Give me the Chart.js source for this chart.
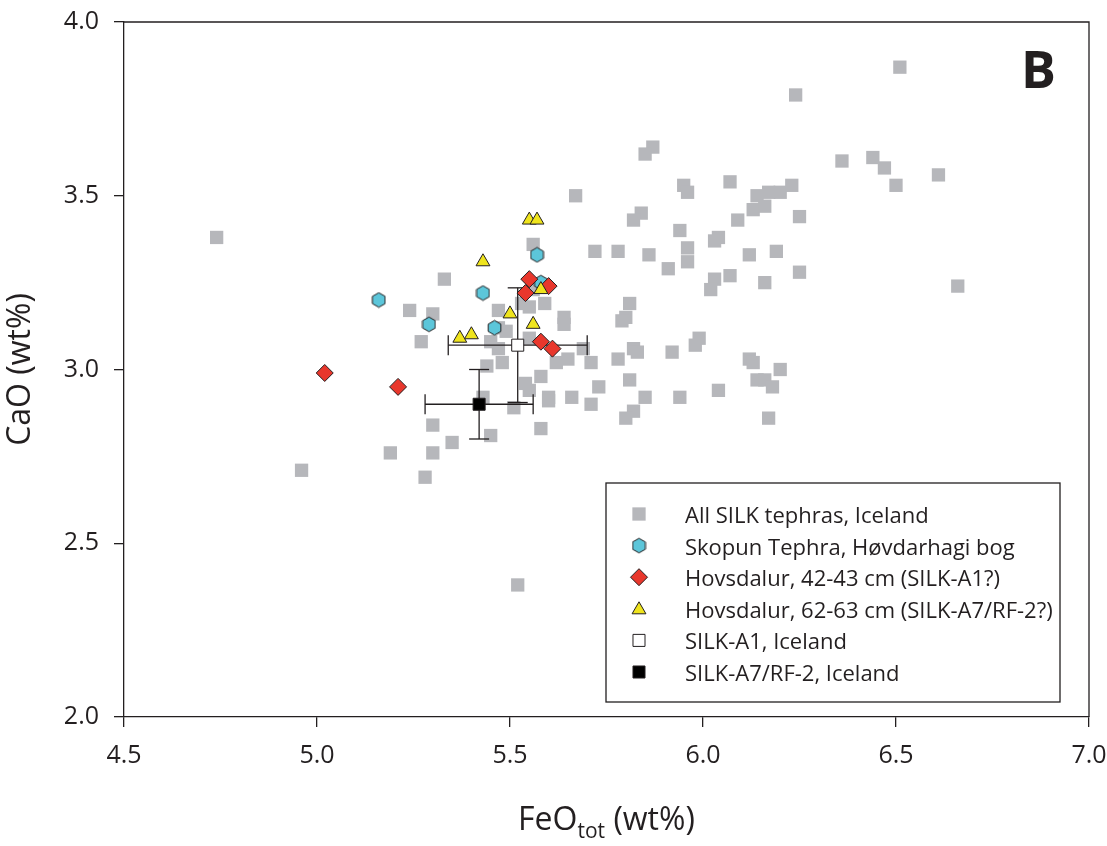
<!DOCTYPE html>
<html>
<head>
<meta charset="utf-8">
<script src="https://cdn.jsdelivr.net/npm/chart.js@4/dist/chart.umd.min.js"></script>
<style>
  html, body { margin: 0; padding: 0; background: #fff; }
  canvas { display: block; }
</style>
</head>
<body>
<canvas id="chart" width="1107" height="846"></canvas>
<script>
// FeO_tot vs CaO (wt%), panel B
const xTicks = [4.5, 5.0, 5.5, 6.0, 6.5, 7.0];
const yTicks = [2.0, 2.5, 3.0, 3.5, 4.0];

const legendLabels = [
    'All SILK tephras, Iceland',
    'Skopun Tephra, Høvdarhagi bog',
    'Hovsdalur, 42-43 cm (SILK-A1?)',
    'Hovsdalur, 62-63 cm (SILK-A7/RF-2?)',
    'SILK-A1, Iceland',
    'SILK-A7/RF-2, Iceland',
];

// all SILK tephras
const grayFeO = [
    4.74, 4.96, 5.19, 5.24, 5.27, 5.28, 5.30, 5.30, 5.30, 5.33, 5.35, 5.45, 5.58, 5.43, 5.51, 5.52,
    5.67, 5.84, 5.82, 5.56, 5.72, 5.78, 5.86, 5.56, 5.53, 5.55, 5.59, 5.81, 5.80, 5.79, 5.47, 5.64,
    5.64, 5.47, 5.49, 5.45, 5.47, 5.55, 5.69, 5.65, 5.62, 5.71, 5.78, 5.82, 5.83, 5.44, 5.48, 5.58,
    5.54, 5.55, 5.60, 5.60, 5.66, 5.71, 5.73, 5.81, 5.85, 5.82, 5.80, 5.87, 5.85, 6.36, 5.95, 5.96,
    6.07, 6.14, 6.17, 6.20, 6.23, 6.13, 6.16, 6.25, 6.09, 5.94, 6.04, 6.03, 5.96, 5.96, 5.91, 6.12,
    6.19, 6.25, 6.03, 6.02, 6.07, 6.16, 5.99, 5.98, 5.92, 6.12, 6.13, 6.20, 6.14, 6.16, 6.18, 6.04,
    5.94, 6.17, 6.51, 6.24, 6.44, 6.47, 6.50, 6.61, 6.66,
];
const grayCaO = [
    3.38, 2.71, 2.76, 3.17, 3.08, 2.69, 2.84, 2.76, 3.16, 3.26, 2.79, 2.81, 2.83, 2.92, 2.89, 2.38,
    3.50, 3.45, 3.43, 3.36, 3.34, 3.34, 3.33, 3.23, 3.19, 3.18, 3.19, 3.19, 3.15, 3.14, 3.17, 3.15,
    3.13, 3.12, 3.11, 3.08, 3.06, 3.09, 3.06, 3.03, 3.02, 3.02, 3.03, 3.06, 3.05, 3.01, 3.02, 2.98,
    2.96, 2.94, 2.92, 2.91, 2.92, 2.90, 2.95, 2.97, 2.92, 2.88, 2.86, 3.64, 3.62, 3.60, 3.53, 3.51,
    3.54, 3.50, 3.51, 3.51, 3.53, 3.46, 3.47, 3.44, 3.43, 3.40, 3.38, 3.37, 3.35, 3.31, 3.29, 3.33,
    3.34, 3.28, 3.26, 3.23, 3.27, 3.25, 3.09, 3.07, 3.05, 3.03, 3.02, 3.00, 2.97, 2.97, 2.95, 2.94,
    2.92, 2.86, 3.87, 3.79, 3.61, 3.58, 3.53, 3.56, 3.24,
];

// Skopun Tephra, Hovdarhagi bog
const skopunFeO = [5.57, 5.58, 5.43, 5.16, 5.29, 5.46];
const skopunCaO = [3.33, 3.25, 3.22, 3.20, 3.13, 3.12];

// Hovsdalur 42-43 cm
const hovs42FeO = [5.55, 5.60, 5.54, 5.58, 5.61, 5.21, 5.02];
const hovs42CaO = [3.26, 3.24, 3.22, 3.08, 3.06, 2.95, 2.99];

// Hovsdalur 62-63 cm
const hovs62FeO = [5.55, 5.57, 5.43, 5.58, 5.50, 5.56, 5.37, 5.40];
const hovs62CaO = [3.43, 3.43, 3.31, 3.23, 3.16, 3.13, 3.09, 3.10];

// reference means [FeO, CaO] and 1 sd [FeO, CaO]
const silkA1 = [5.52, 3.07];
const silkA1Err = [0.18, 0.165];
const silkA7 = [5.42, 2.90];
const silkA7Err = [0.14, 0.10];

const INK = '#231f20';
const GRAY = '#b6b7bb';
const CYAN = '#5cc6da';
const RED = '#e8372c';
const YELLOW = '#efe41d';
const FONT = '"Open Sans", "Noto Sans", sans-serif';

function toPoints(xs, ys) {
    return xs.map((x, i) => ({ x, y: ys[i] }));
}

function makeHexagon(r, fill) {
    const w = Math.ceil(r * Math.sqrt(3)) + 2;
    const h = Math.ceil(r * 2) + 2;
    const c = document.createElement('canvas');
    c.width = w;
    c.height = h;
    const ctx = c.getContext('2d');
    ctx.beginPath();
    for (let k = 0; k < 6; k++) {
        const a = -Math.PI / 2 + k * Math.PI / 3;
        const px = w / 2 + r * Math.cos(a);
        const py = h / 2 + r * Math.sin(a);
        if (k === 0) {
            ctx.moveTo(px, py);
        } else {
            ctx.lineTo(px, py);
        }
    }
    ctx.closePath();
    ctx.fillStyle = fill;
    ctx.fill();
    ctx.lineWidth = 1;
    ctx.strokeStyle = INK;
    ctx.stroke();
    return c;
}

const hexagon = makeHexagon(7.3, CYAN);

function errorBar(center, err, horizontal) {
    const [cx, cy] = center;
    const data = horizontal
        ? [{ x: cx - err[0], y: cy }, { x: cx + err[0], y: cy }]
        : [{ x: cx, y: cy - err[1] }, { x: cx, y: cy + err[1] }];
    return {
        data,
        showLine: true,
        borderColor: INK,
        borderWidth: 1.3,
        pointStyle: 'line',
        pointRadius: 10,
        pointRotation: horizontal ? 90 : 0,
        pointBorderColor: INK,
        pointBorderWidth: 1.3,
        pointHoverRadius: 10,
        order: 4,
    };
}

// marker datasets, in legend order
const markerSets = [
    {
        data: toPoints(grayFeO, grayCaO),
        pointStyle: 'rect', pointRadius: 9.4, borderWidth: 0,
        backgroundColor: GRAY, borderColor: GRAY, order: 6,
    },
    {
        data: toPoints(skopunFeO, skopunCaO),
        pointStyle: hexagon, pointRadius: 8, borderWidth: 0,
        backgroundColor: CYAN, borderColor: INK, order: 2,
    },
    {
        data: toPoints(hovs42FeO, hovs42CaO),
        pointStyle: 'rectRot', pointRadius: 8.5, borderWidth: 1,
        backgroundColor: RED, borderColor: INK, order: 1,
    },
    {
        data: toPoints(hovs62FeO, hovs62CaO),
        pointStyle: 'triangle', pointRadius: 8, borderWidth: 1,
        backgroundColor: YELLOW, borderColor: INK, order: 0,
    },
    {
        data: [{ x: silkA1[0], y: silkA1[1] }],
        pointStyle: 'rect', pointRadius: 8.5, borderWidth: 1,
        backgroundColor: '#ffffff', borderColor: INK, order: 3,
    },
    {
        data: [{ x: silkA7[0], y: silkA7[1] }],
        pointStyle: 'rect', pointRadius: 8.5, borderWidth: 1,
        backgroundColor: '#000000', borderColor: INK, order: 3,
    },
];

const datasets = [
    ...markerSets.map((set, i) => ({ ...set, label: legendLabels[i], pointHoverRadius: set.pointRadius })),
    errorBar(silkA1, silkA1Err, true),
    errorBar(silkA1, silkA1Err, false),
    errorBar(silkA7, silkA7Err, true),
    errorBar(silkA7, silkA7Err, false),
];

const framePlugin = {
    id: 'frame',
    beforeDatasetsDraw(chart) {
        const { ctx, chartArea } = chart;
        ctx.save();
        ctx.strokeStyle = INK;
        ctx.lineWidth = 1.3;
        ctx.beginPath();
        ctx.moveTo(chartArea.left, chartArea.top);
        ctx.lineTo(chartArea.right, chartArea.top);
        ctx.lineTo(chartArea.right, chartArea.bottom);
        ctx.stroke();
        ctx.restore();
    },
};

const labelsPlugin = {
    id: 'labels',
    afterDraw(chart) {
        const { ctx, chartArea } = chart;
        ctx.save();
        ctx.fillStyle = INK;

        // panel letter
        ctx.font = `bold 52px ${FONT}`;
        ctx.textAlign = 'right';
        ctx.textBaseline = 'alphabetic';
        ctx.fillText('B', chartArea.right - 33, chartArea.top + 66);

        // x title with subscript
        const main = `32px ${FONT}`;
        const sub = `21px ${FONT}`;
        ctx.textAlign = 'left';
        ctx.font = main;
        const w1 = ctx.measureText('FeO').width;
        const w3 = ctx.measureText(' (wt%)').width;
        ctx.font = sub;
        const w2 = ctx.measureText('tot').width;
        const baseY = chart.height - 16;
        let x = (chartArea.left + chartArea.right) / 2 - (w1 + w2 + w3) / 2;
        ctx.font = main;
        ctx.fillText('FeO', x, baseY);
        x += w1;
        ctx.font = sub;
        ctx.fillText('tot', x, baseY + 8);
        x += w2;
        ctx.font = main;
        ctx.fillText(' (wt%)', x, baseY);
        ctx.restore();
    },
};

const legendPlugin = {
    id: 'boxLegend',
    afterDraw(chart) {
        const { ctx, chartArea } = chart;
        const right = chartArea.right - 29;
        const bottom = chartArea.bottom - 15;
        const width = 454;
        const height = 219;
        const left = right - width;
        const top = bottom - height;

        ctx.save();
        ctx.fillStyle = '#ffffff';
        ctx.fillRect(left, top, width, height);
        ctx.strokeStyle = INK;
        ctx.lineWidth = 1.3;
        ctx.strokeRect(left, top, width, height);

        ctx.font = `22px ${FONT}`;
        ctx.textAlign = 'left';
        ctx.textBaseline = 'alphabetic';
        legendLabels.forEach((label, i) => {
            const set = markerSets[i];
            const cy = top + 31 + i * 31.6;
            const mx = left + 33;
            ctx.fillStyle = set.backgroundColor;
            ctx.strokeStyle = set.borderColor;
            ctx.lineWidth = set.borderWidth;
            Chart.helpers.drawPoint(ctx, {
                pointStyle: set.pointStyle,
                radius: set.pointRadius,
                rotation: 0,
                borderWidth: set.borderWidth,
            }, mx, set.pointStyle === 'triangle' ? cy + 1 : cy);
            ctx.fillStyle = INK;
            ctx.fillText(label, left + 79, cy + 9);
        });
        ctx.restore();
    },
};

const tickFont = { family: FONT, size: 25 };

new Chart(document.getElementById('chart'), {
    type: 'scatter',
    data: { datasets },
    options: {
        responsive: false,
        animation: false,
        devicePixelRatio: 1,
        layout: { padding: { top: 22, right: 18, left: 0, bottom: 0 } },
        plugins: {
            legend: { display: false },
            tooltip: { enabled: false },
        },
        scales: {
            x: {
                type: 'linear',
                min: 4.5,
                max: 7.0,
                afterBuildTicks: scale => { scale.ticks = xTicks.map(value => ({ value })); },
                afterFit: scale => {
                    scale.height = 129;
                    scale.paddingLeft = 0;
                    scale.paddingRight = 0;
                },
                ticks: {
                    color: INK,
                    font: tickFont,
                    padding: 14,
                    maxRotation: 0,
                    callback: value => Number(value).toFixed(1),
                },
                grid: { drawOnChartArea: false, drawTicks: true, tickLength: 10, color: INK, lineWidth: 1.3 },
                border: { display: true, color: INK, width: 1.3 },
            },
            y: {
                type: 'linear',
                min: 2.0,
                max: 4.0,
                afterBuildTicks: scale => { scale.ticks = yTicks.map(value => ({ value })); },
                afterFit: scale => {
                    scale.width = 124;
                    scale.paddingTop = 0;
                    scale.paddingBottom = 0;
                },
                ticks: {
                    color: INK,
                    font: tickFont,
                    padding: 15,
                    callback: value => Number(value).toFixed(1),
                },
                grid: { drawOnChartArea: false, drawTicks: true, tickLength: 10, color: INK, lineWidth: 1.3 },
                border: { display: true, color: INK, width: 1.3 },
                title: {
                    display: true,
                    text: 'CaO (wt%)',
                    color: INK,
                    font: { family: FONT, size: 32 },
                    padding: { top: 2, bottom: 0 },
                },
            },
        },
    },
    plugins: [framePlugin, labelsPlugin, legendPlugin],
});
</script>
</body>
</html>
